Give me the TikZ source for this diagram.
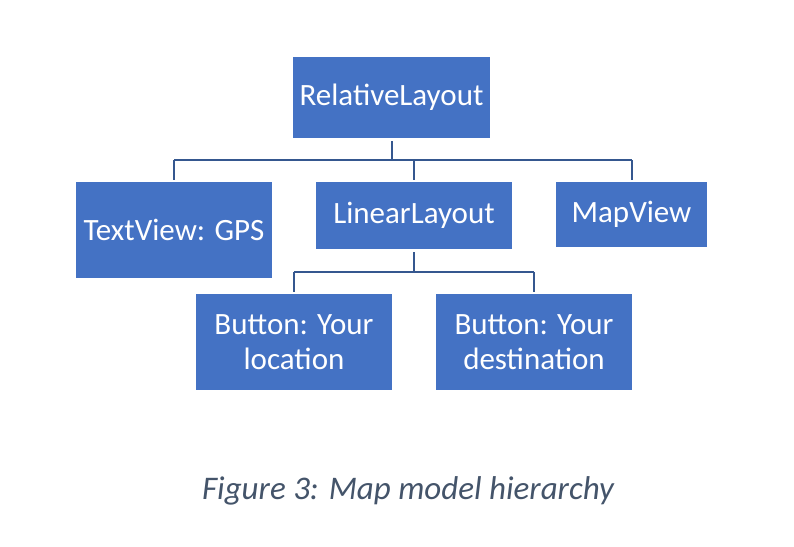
\documentclass[tikz,border=0pt]{standalone}
\usepackage{fontspec}
\setmainfont{Carlito}
\definecolor{boxblue}{HTML}{4472C4}
\definecolor{linecol}{HTML}{35578F}
\definecolor{capcol}{HTML}{44546A}
\begin{document}
\begin{tikzpicture}[x=1pt,y=-1pt,
  box/.style={rectangle, fill=boxblue, text=white, align=center, inner sep=0pt,
    font=\fontsize{31}{35}\selectfont},
  conn/.style={draw=linecol, line width=2pt}]
\useasboundingbox[fill=white] (0,0) rectangle (794,546);
\node[box, minimum width=197, minimum height=81] (rel) at (391.5,97.5) {RelativeLayout};
\node[box, minimum width=196, minimum height=96] (tv) at (174,230) {TextView: GPS};
\node[box, minimum width=196, minimum height=67] (ll) at (414,215.5) {LinearLayout};
\node[box, minimum width=151, minimum height=65] (mv) at (631.5,214.5) {MapView};
\node[box, minimum width=196, minimum height=96] (b1) at (294,342) {Button: Your\\location};
\node[box, minimum width=196, minimum height=96] (b2) at (534,342) {Button: Your\\destination};
\node[font=\fontsize{33}{38}\itshape, text=capcol] (cap) at (408,491) {Figure 3: Map model hierarchy};
\coordinate (bus1) at (0,160);
\coordinate (bus2) at (0,272);
% level 1
\draw[conn, shorten <=3pt] (rel.south) -- (rel.south |- bus1);
\draw[conn] (tv.north |- bus1) -- (mv.north |- bus1);
\draw[conn, shorten >=2pt] (tv.north |- bus1) -- (tv.north);
\draw[conn, shorten >=2pt] (ll.north |- bus1) -- (ll.north);
\draw[conn, shorten >=2pt] (mv.north |- bus1) -- (mv.north);
% level 2
\draw[conn, shorten <=3pt] (ll.south) -- (ll.south |- bus2);
\draw[conn] (b1.north |- bus2) -- (b2.north |- bus2);
\draw[conn, shorten >=2pt] (b1.north |- bus2) -- (b1.north);
\draw[conn, shorten >=2pt] (b2.north |- bus2) -- (b2.north);
\end{tikzpicture}
\end{document}
